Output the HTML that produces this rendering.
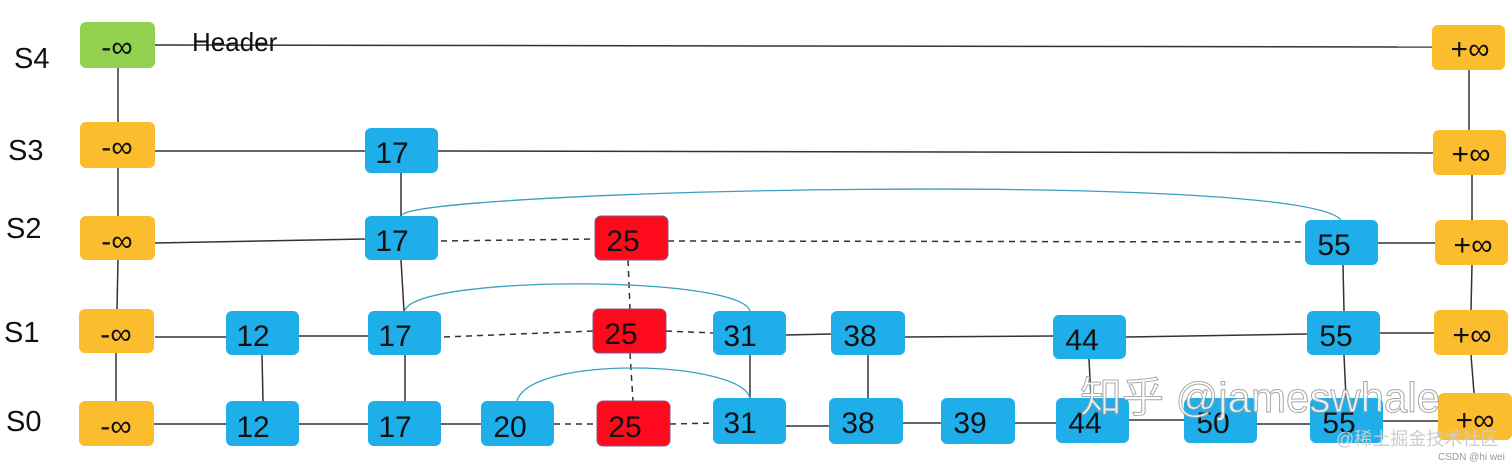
<!DOCTYPE html>
<html><head><meta charset="utf-8"><style>
html,body{margin:0;padding:0;background:#fff;}
svg{display:block}
text{font-family:"Liberation Sans","DejaVu Sans",sans-serif;}
</style></head><body>
<svg width="1512" height="464" viewBox="0 0 1512 464" xmlns="http://www.w3.org/2000/svg">
<g stroke="#333" stroke-width="1.5" fill="none">
<line x1="155" y1="45" x2="1432" y2="47"/>
<line x1="155" y1="151" x2="365" y2="151"/>
<line x1="438" y1="151" x2="1433" y2="153"/>
<line x1="155" y1="243" x2="365" y2="239"/>
<line x1="1378" y1="243" x2="1435" y2="243"/>
<line x1="155" y1="337" x2="226" y2="337"/>
<line x1="299" y1="336" x2="368" y2="336"/>
<line x1="786" y1="335" x2="831" y2="334"/>
<line x1="905" y1="337" x2="1053" y2="336"/>
<line x1="1126" y1="337" x2="1307" y2="334"/>
<line x1="1380" y1="333" x2="1434" y2="333"/>
<line x1="153" y1="424" x2="226" y2="424"/>
<line x1="299" y1="424" x2="368" y2="424"/>
<line x1="441" y1="424" x2="481" y2="424"/>
<line x1="786" y1="426" x2="829" y2="426"/>
<line x1="903" y1="423" x2="941" y2="423"/>
<line x1="1015" y1="423" x2="1056" y2="423"/>
<line x1="1129" y1="420" x2="1184" y2="420"/>
<line x1="1257" y1="424" x2="1310" y2="424"/>
<line x1="1383" y1="421" x2="1438" y2="421"/>
<line x1="118" y1="68" x2="118" y2="122"/>
<line x1="118" y1="168" x2="118" y2="216"/>
<line x1="118" y1="260" x2="117" y2="309"/>
<line x1="116" y1="353" x2="116" y2="401"/>
<line x1="262" y1="355" x2="263" y2="401"/>
<line x1="401" y1="173" x2="401" y2="216"/>
<line x1="401" y1="260" x2="404" y2="311"/>
<line x1="405" y1="355" x2="405" y2="401"/>
<line x1="750" y1="355" x2="750" y2="398"/>
<line x1="868" y1="355" x2="868" y2="398"/>
<line x1="1089" y1="359" x2="1091" y2="398"/>
<line x1="1343" y1="265" x2="1344" y2="311"/>
<line x1="1344" y1="355" x2="1346" y2="398"/>
<line x1="1469" y1="70" x2="1469" y2="130"/>
<line x1="1472" y1="175" x2="1472" y2="220"/>
<line x1="1472" y1="265" x2="1471" y2="310"/>
<line x1="1471" y1="355" x2="1474" y2="393"/>
</g>
<g stroke="#333" stroke-width="1.5" fill="none" stroke-dasharray="6,5">
<line x1="441" y1="241" x2="595" y2="239"/>
<line x1="668" y1="241" x2="1305" y2="242"/>
<line x1="444" y1="337" x2="593" y2="331"/>
<line x1="666" y1="331" x2="713" y2="333"/>
<line x1="554" y1="424" x2="597" y2="424"/>
<line x1="670" y1="424" x2="713" y2="423"/>
<line x1="628" y1="260" x2="630" y2="309"/>
<line x1="630" y1="353" x2="633" y2="401"/>
</g>
<g stroke="#3a9fc0" stroke-width="1.3" fill="none">
<path d="M402 215 C420 190, 1300 170, 1341 220"/>
<path d="M405 310 C420 275, 740 275, 750 311"/>
<path d="M517 401 C530 355, 740 360, 750 398"/>
</g>
<g font-size="29" fill="#111">
<text x="14" y="68">S4</text>
<text x="8" y="160">S3</text>
<text x="6" y="238">S2</text>
<text x="4" y="342">S1</text>
<text x="6" y="431">S0</text>
<text x="192" y="51" font-size="26">Header</text>
</g>
<g font-size="30" fill="#111" text-anchor="middle">
<rect x="80" y="22" width="75" height="46" rx="6" fill="#92d050"/><text x="117" y="57">-∞</text>
<rect x="80" y="122" width="75" height="46" rx="6" fill="#fbbc2e"/><text x="117" y="157">-∞</text>
<rect x="80" y="216" width="75" height="44" rx="6" fill="#fbbc2e"/><text x="117" y="251">-∞</text>
<rect x="79" y="309" width="75" height="44" rx="6" fill="#fbbc2e"/><text x="116" y="344">-∞</text>
<rect x="79" y="401" width="75" height="45" rx="6" fill="#fbbc2e"/><text x="116" y="436">-∞</text>

<rect x="365" y="128" width="73" height="45" rx="6" fill="#1eaeea"/><text x="392" y="163">17</text>
<rect x="365" y="216" width="73" height="44" rx="6" fill="#1eaeea"/><text x="392" y="251">17</text>
<rect x="368" y="311" width="73" height="44" rx="6" fill="#1eaeea"/><text x="395" y="346">17</text>
<rect x="368" y="401" width="73" height="45" rx="6" fill="#1eaeea"/><text x="395" y="437">17</text>
<rect x="226" y="311" width="73" height="44" rx="6" fill="#1eaeea"/><text x="253" y="346">12</text>
<rect x="226" y="401" width="73" height="45" rx="6" fill="#1eaeea"/><text x="253" y="437">12</text>
<rect x="481" y="401" width="73" height="45" rx="6" fill="#1eaeea"/><text x="510" y="437">20</text>

<rect x="595" y="216" width="73" height="44" rx="6" fill="#ff0a1c" stroke="#7a5a8a" stroke-width="1"/><text x="623" y="251">25</text>
<rect x="593" y="309" width="73" height="44" rx="6" fill="#ff0a1c" stroke="#7a5a8a" stroke-width="1"/><text x="621" y="344">25</text>
<rect x="597" y="401" width="73" height="45" rx="6" fill="#ff0a1c" stroke="#7a5a8a" stroke-width="1"/><text x="625" y="437">25</text>

<rect x="713" y="311" width="73" height="44" rx="6" fill="#1eaeea"/><text x="740" y="346">31</text>
<rect x="713" y="398" width="73" height="46" rx="6" fill="#1eaeea"/><text x="740" y="433">31</text>
<rect x="831" y="311" width="74" height="44" rx="6" fill="#1eaeea"/><text x="860" y="346">38</text>
<rect x="829" y="398" width="74" height="46" rx="6" fill="#1eaeea"/><text x="858" y="433">38</text>
<rect x="941" y="398" width="74" height="46" rx="6" fill="#1eaeea"/><text x="970" y="433">39</text>
<rect x="1053" y="315" width="73" height="44" rx="6" fill="#1eaeea"/><text x="1082" y="350">44</text>
<rect x="1056" y="398" width="73" height="45" rx="6" fill="#1eaeea"/><text x="1085" y="433">44</text>
<rect x="1184" y="398" width="73" height="45" rx="6" fill="#1eaeea"/><text x="1213" y="433">50</text>
<rect x="1305" y="220" width="73" height="45" rx="6" fill="#1eaeea"/><text x="1334" y="255">55</text>
<rect x="1307" y="311" width="73" height="44" rx="6" fill="#1eaeea"/><text x="1336" y="346">55</text>
<rect x="1310" y="398" width="73" height="45" rx="6" fill="#1eaeea"/><text x="1339" y="433">55</text>

<rect x="1432" y="25" width="73" height="45" rx="6" fill="#fbbc2e"/><text x="1470" y="59">+∞</text>
<rect x="1433" y="130" width="73" height="45" rx="6" fill="#fbbc2e"/><text x="1471" y="164">+∞</text>
<rect x="1435" y="220" width="73" height="45" rx="6" fill="#fbbc2e"/><text x="1473" y="255">+∞</text>
<rect x="1434" y="310" width="74" height="45" rx="6" fill="#fbbc2e"/><text x="1472" y="345">+∞</text>
<rect x="1438" y="393" width="74" height="47" rx="6" fill="#fbbc2e"/><text x="1475" y="430">+∞</text>
</g>
<text x="1080" y="412" font-size="42" fill="#fff" stroke="#999" stroke-width="1" opacity="0.85" font-family="'Liberation Sans','Noto Sans CJK SC',sans-serif">知乎 @jameswhale</text>
<text x="1336" y="445" font-size="18" fill="#ccc" font-family="'Liberation Sans','Noto Sans CJK SC',sans-serif">@稀土掘金技术社区</text>
<text x="1438" y="460" font-size="10" fill="#999">CSDN @hi wei</text>
</svg>
</body></html>
